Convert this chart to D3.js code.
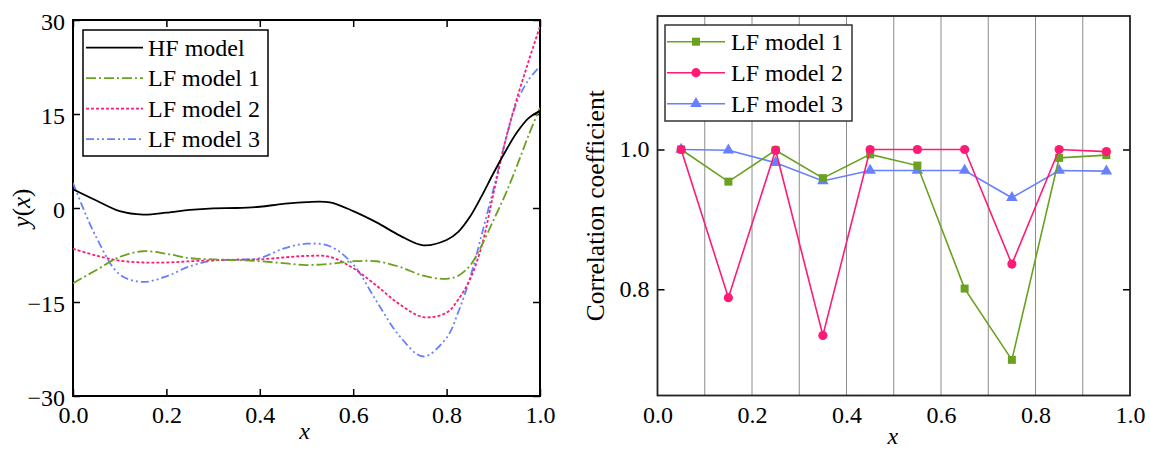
<!DOCTYPE html>
<html><head><meta charset="utf-8">
<script src="https://cdn.jsdelivr.net/npm/d3@7"></script>
<style>body{margin:0;background:#fff}svg{display:block}text{font-family:"Liberation Serif","Times New Roman",serif;fill:#000}</style>
</head><body>
<svg id="c" width="1150" height="455"></svg>
<script>
// ---- Left panel data ----
const xs = [0,0.05,0.1,0.15,0.2,0.25,0.3,0.35,0.4,0.45,0.5,0.55,0.6,0.65,0.7,0.75,0.8,0.825,0.85,0.875,0.9,0.925,0.95,0.975,1.0];
const hfModel = [3.0,1.2,-0.5,-1.05,-0.75,-0.3,-0.05,0.0,0.2,0.65,0.95,0.9,-0.5,-2.3,-4.4,-5.95,-5.1,-3.8,-1.4,1.9,5.5,8.9,12.0,14.3,15.5];
const lfModel1 = [-12.0,-9.9,-7.8,-6.9,-7.3,-8.0,-8.2,-8.3,-8.5,-8.8,-9.1,-8.9,-8.5,-8.5,-9.4,-10.8,-11.3,-10.8,-9.2,-6.0,-2.0,2.0,6.6,11.5,16.0];
const lfModel2 = [-6.5,-7.6,-8.4,-8.7,-8.7,-8.5,-8.35,-8.25,-8.2,-7.9,-7.65,-7.8,-9.6,-12.4,-15.4,-17.4,-16.7,-14.6,-11.4,-6.1,2.2,10.5,17.3,23.3,29.0];
const lfModel3 = [4.0,-4.7,-10.6,-11.8,-10.9,-9.3,-8.4,-8.25,-8.0,-6.5,-5.7,-6.1,-9.0,-14.9,-20.5,-23.7,-20.7,-16.6,-11.2,-4.3,2.9,10.4,16.8,20.4,22.6];
const leftNames = ["HF model","LF model 1","LF model 2","LF model 3"];
const leftXTicks = [0,0.2,0.4,0.6,0.8,1.0];
const leftYTicks = [-30,-15,0,15,30];

// ---- Right panel data ----
const xc = [0.05,0.15,0.25,0.35,0.45,0.55,0.65,0.75,0.85,0.95];
const corr1 = [1.0,0.954,0.999,0.959,0.993,0.977,0.801,0.699,0.988,0.992];
const corr2 = [1.0,0.788,0.999,0.734,1.0,1.0,1.0,0.836,1.0,0.997];
const corr3 = [1.0,0.999,0.981,0.955,0.970,0.970,0.970,0.931,0.970,0.969];
const rightNames = ["LF model 1","LF model 2","LF model 3"];
const rightXTicks = [0,0.2,0.4,0.6,0.8,1.0];
const rightYTicks = [0.8,1.0];
const gridX = [0.1,0.2,0.3,0.4,0.5,0.6,0.7,0.8,0.9];

const svg = d3.select("#c");
const FS = 24;
const cGreen = "#6aa121", cPink = "#ff1a75", cBlue = "#6680ff";

// ========== LEFT PANEL ==========
const L = {l:73, r:540, t:20, b:396};
const xL = d3.scaleLinear().domain([0,1]).range([L.l, L.r]);
const yL = d3.scaleLinear().domain([-30,30]).range([L.b, L.t]);
const gL = svg.append("g");

const fmt1 = d3.format(".1f");
const axB = gL.append("g").attr("transform",`translate(0,${L.b})`)
  .call(d3.axisBottom(xL).tickValues(leftXTicks).tickSize(-7).tickFormat(fmt1));
axB.selectAll("text").attr("y",27).attr("dy",0).style("font-size",FS+"px");
gL.append("g").attr("transform",`translate(0,${L.t})`)
  .call(d3.axisTop(xL).tickValues(leftXTicks).tickSize(-7).tickFormat("")).selectAll("text").remove();
const axLft = gL.append("g").attr("transform",`translate(${L.l},0)`)
  .call(d3.axisLeft(yL).tickValues(leftYTicks).tickSize(-7).tickFormat(d3.format("d")));
axLft.selectAll("text").attr("x",-8).attr("dy",9.5).style("font-size",FS+"px");
gL.append("g").attr("transform",`translate(${L.r},0)`)
  .call(d3.axisRight(yL).tickValues(leftYTicks).tickSize(-7).tickFormat("")).selectAll("text").remove();
gL.selectAll(".domain").remove();
gL.selectAll(".tick line").attr("stroke","#000").attr("stroke-width",1.5);
gL.append("rect").attr("x",L.l).attr("y",L.t).attr("width",L.r-L.l).attr("height",L.b-L.t)
  .attr("fill","none").attr("stroke","#000").attr("stroke-width",2);

const leftSeries = [
  {name:leftNames[0], ys:hfModel, color:"#000", dash:null},
  {name:leftNames[1], ys:lfModel1, color:cGreen, dash:"10,3,2,3"},
  {name:leftNames[2], ys:lfModel2, color:cPink, dash:"3,2"},
  {name:leftNames[3], ys:lfModel3, color:cBlue, dash:"8,3,2,3,2,3"}
];
const lineL = d3.line().x((d,i)=>xL(xs[i])).y(d=>yL(d)).curve(d3.curveCatmullRom.alpha(0.5));
gL.append("defs").append("clipPath").attr("id","clipL").append("rect")
  .attr("x",L.l).attr("y",L.t-12).attr("width",L.r-L.l).attr("height",L.b-L.t+12);
[3,2,1,0].forEach(k=>{
  const s = leftSeries[k];
  gL.append("path").attr("d",lineL(s.ys)).attr("fill","none").attr("stroke",s.color)
    .attr("stroke-width",1.8).attr("stroke-dasharray",s.dash).attr("clip-path","url(#clipL)");
});
const lg = gL.append("g");
lg.append("rect").attr("x",83).attr("y",30).attr("width",185).attr("height",126)
  .attr("fill","#fff").attr("stroke","#000").attr("stroke-width",1.5);
leftSeries.forEach((s,i)=>{
  const yy = 47.7 + i*30.5;
  lg.append("line").attr("x1",86).attr("x2",143).attr("y1",yy).attr("y2",yy)
    .attr("stroke",s.color).attr("stroke-width",1.8).attr("stroke-dasharray",s.dash);
  lg.append("text").attr("x",148).attr("y",yy+8).style("font-size",FS+"px").text(s.name);
});
gL.append("text").attr("x",L.l+(L.r-L.l)/2-2).attr("y",439).attr("text-anchor","middle")
  .style("font-size",FS+"px").style("font-style","italic").text("x");
const yl = gL.append("text").attr("transform",`translate(30,${(L.t+L.b)/2}) rotate(-90)`)
  .attr("text-anchor","middle").style("font-size","25px");
yl.append("tspan").style("font-style","italic").text("y");
yl.append("tspan").text("(");
yl.append("tspan").style("font-style","italic").text("x");
yl.append("tspan").text(")");

// ========== RIGHT PANEL ==========
const R = {l:657.5, r:1130, t:16, b:395.5};
const xR = d3.scaleLinear().domain([0,1]).range([R.l, R.r]);
const yR = d3.scaleLinear().domain([0.648,1.191]).range([R.b, R.t]);
const gR = svg.append("g");

gR.selectAll("line.grid").data(gridX).enter().append("line").attr("class","grid")
  .attr("x1",d=>xR(d)).attr("x2",d=>xR(d)).attr("y1",R.t).attr("y2",R.b)
  .attr("stroke","#8c8c8c").attr("stroke-width",1);

const axBR = gR.append("g").attr("transform",`translate(0,${R.b})`)
  .call(d3.axisBottom(xR).tickValues(rightXTicks).tickSize(0).tickFormat(fmt1));
axBR.selectAll("text").attr("y",27.5).attr("dy",0).style("font-size",FS+"px");
const axLR = gR.append("g").attr("transform",`translate(${R.l},0)`)
  .call(d3.axisLeft(yR).tickValues(rightYTicks).tickSize(-7).tickFormat(fmt1));
axLR.selectAll("text").attr("x",-8).attr("dy",7.5).style("font-size",FS+"px");
gR.append("g").attr("transform",`translate(${R.r},0)`)
  .call(d3.axisRight(yR).tickValues(rightYTicks).tickSize(-7).tickFormat("")).selectAll("text").remove();
gR.selectAll(".domain").remove();
gR.selectAll(".tick line").attr("stroke","#000").attr("stroke-width",1.5);
gR.append("rect").attr("x",R.l).attr("y",R.t).attr("width",R.r-R.l).attr("height",R.b-R.t)
  .attr("fill","none").attr("stroke","#222").attr("stroke-width",1.8);

const rightSeries = [
  {name:rightNames[0], ys:corr1, color:cGreen, sym:d3.symbolSquare, size:64},
  {name:rightNames[1], ys:corr2, color:cPink, sym:d3.symbolCircle, size:66},
  {name:rightNames[2], ys:corr3, color:cBlue, sym:d3.symbolTriangle, size:58}
];
const lgR = gR.append("g");
lgR.append("rect").attr("x",665).attr("y",25).attr("width",187).attr("height",96)
  .attr("fill","#fff").attr("stroke","#333").attr("stroke-width",1.5);
rightSeries.forEach((s,i)=>{
  const yy = 41.7 + i*31;
  lgR.append("line").attr("x1",667).attr("x2",725).attr("y1",yy).attr("y2",yy)
    .attr("stroke",s.color).attr("stroke-width",1.6);
  lgR.append("path").attr("d",d3.symbol().type(s.sym).size(s.size)())
    .attr("transform",`translate(696,${yy})`).attr("fill",s.color);
  lgR.append("text").attr("x",731).attr("y",yy+8).style("font-size",FS+"px").text(s.name);
});
const lineR = d3.line().x((d,i)=>xR(xc[i])).y(d=>yR(d));
[2,0,1].forEach(k=>{
  const s = rightSeries[k];
  gR.append("path").attr("d",lineR(s.ys)).attr("fill","none").attr("stroke",s.color).attr("stroke-width",1.6);
  gR.selectAll(null).data(s.ys).enter().append("path")
    .attr("d",d3.symbol().type(s.sym).size(s.size)())
    .attr("transform",(d,i)=>`translate(${xR(xc[i])},${yR(d)})`).attr("fill",s.color);
});
gR.append("text").attr("x",R.l+(R.r-R.l)/2-1).attr("y",444).attr("text-anchor","middle")
  .style("font-size",FS+"px").style("font-style","italic").text("x");
gR.append("text").attr("transform",`translate(604,${(R.t+R.b)/2}) rotate(-90)`)
  .attr("text-anchor","middle").style("font-size","25.5px").text("Correlation coefficient");
</script>
</body></html>
